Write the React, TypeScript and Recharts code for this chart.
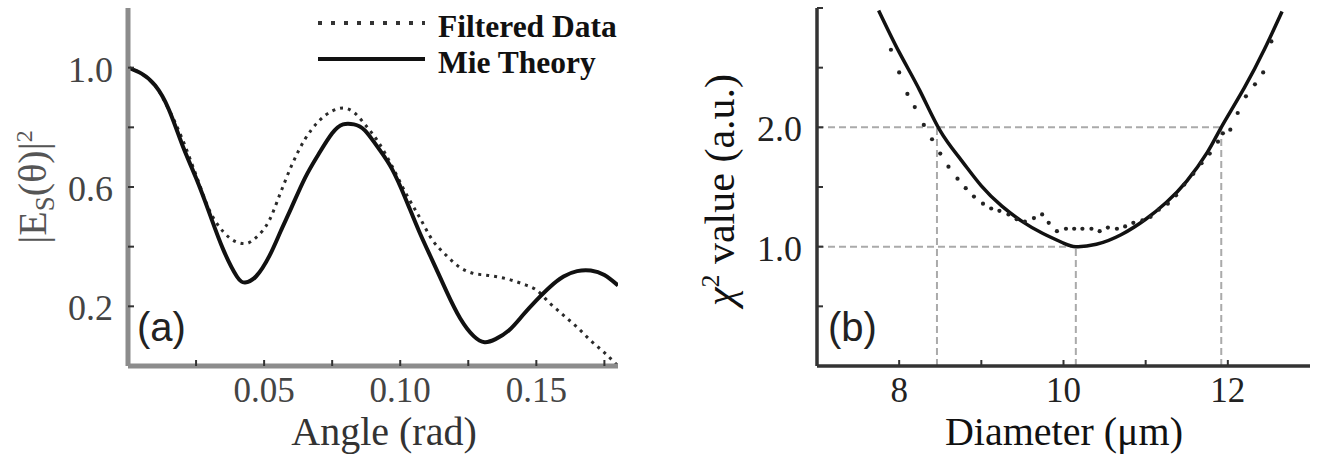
import React from "react";
import { LineChart, ComposedChart, Line, Scatter, XAxis, YAxis, ReferenceLine } from "recharts";

// panel (a): scattered intensity vs angle
const ANGLE = [0, 0.005, 0.01, 0.015, 0.02, 0.025, 0.03, 0.035, 0.04, 0.043, 0.047, 0.052, 0.056, 0.06, 0.065, 0.07, 0.075, 0.079, 0.083, 0.087, 0.092, 0.097, 0.102, 0.107, 0.112, 0.117, 0.122, 0.127, 0.131, 0.135, 0.14, 0.145, 0.15, 0.155, 0.16, 0.165, 0.17, 0.175, 0.18];
const MIE = [1.0, 0.98, 0.94, 0.86, 0.74, 0.63, 0.51, 0.39, 0.3, 0.28, 0.3, 0.37, 0.45, 0.53, 0.63, 0.71, 0.78, 0.81, 0.81, 0.79, 0.73, 0.66, 0.56, 0.45, 0.35, 0.25, 0.16, 0.1, 0.08, 0.09, 0.12, 0.17, 0.22, 0.265, 0.3, 0.318, 0.32, 0.305, 0.27];
const FILTERED = [1.0, 0.98, 0.94, 0.86, 0.76, 0.64, 0.52, 0.45, 0.415, 0.41, 0.43, 0.49, 0.58, 0.67, 0.76, 0.82, 0.855, 0.865, 0.85, 0.81, 0.75, 0.67, 0.58, 0.5, 0.42, 0.37, 0.33, 0.31, 0.305, 0.3, 0.29, 0.275, 0.255, 0.21, 0.17, 0.13, 0.085, 0.045, 0.0];
const ANGLE_TICKS = [0.025, 0.05, 0.075, 0.1, 0.125, 0.15, 0.175];
const ANGLE_LABELS = [0.05, 0.1, 0.15];
const INTENSITY_TICKS = [0.2, 0.4, 0.6, 0.8, 1.0];
const INTENSITY_LABELS = [0.2, 0.6, 1.0];

// panel (b): chi-square vs diameter
const FIT_D = [7.75, 8.0, 8.25, 8.5, 8.75, 9.0, 9.25, 9.5, 9.75, 10.0, 10.15, 10.4, 10.7, 11.0, 11.25, 11.5, 11.75, 11.92, 12.2, 12.45, 12.66];
const FIT_CHI = [2.98, 2.63, 2.31, 1.97, 1.73, 1.51, 1.34, 1.21, 1.11, 1.03, 1.0, 1.02, 1.1, 1.23, 1.37, 1.55, 1.79, 2.0, 2.33, 2.66, 2.97];
const DATA_D = [7.9, 8.0, 8.1, 8.19, 8.3, 8.4, 8.5, 8.6, 8.71, 8.81, 8.91, 9.02, 9.12, 9.22, 9.33, 9.43, 9.53, 9.64, 9.74, 9.82, 9.92, 10.03, 10.13, 10.23, 10.34, 10.44, 10.54, 10.65, 10.75, 10.85, 10.96, 11.06, 11.16, 11.27, 11.37, 11.47, 11.58, 11.68, 11.78, 11.88, 11.94, 12.03, 12.12, 12.22, 12.33, 12.43, 12.53];
const DATA_CHI = [2.65, 2.46, 2.28, 2.17, 2.02, 1.9, 1.78, 1.67, 1.57, 1.49, 1.42, 1.36, 1.32, 1.3, 1.27, 1.23, 1.21, 1.24, 1.27, 1.2, 1.13, 1.15, 1.15, 1.15, 1.15, 1.13, 1.16, 1.15, 1.17, 1.2, 1.22, 1.25, 1.31, 1.36, 1.43, 1.52, 1.61, 1.7, 1.78, 1.88, 1.95, 1.98, 2.12, 2.26, 2.36, 2.46, 2.72];
const DIAM_TICKS = [8, 9, 10, 11, 12];
const DIAM_LABELS = [8, 10, 12];
const CHI_TICKS = [0.5, 1.0, 1.5, 2.0, 2.5, 3.0];
const CHI_LABELS = [1.0, 2.0];
const CROSS_LOW = 8.46;
const BEST_D = 10.15;
const CROSS_HIGH = 11.92;

const mieData = ANGLE.map((x, i) => ({ x, y: MIE[i] }));
const filteredData = ANGLE.map((x, i) => ({ x, y: FILTERED[i] }));
const fitData = FIT_D.map((x, i) => ({ x, y: FIT_CHI[i] }));
const pointData = DATA_D.map((x, i) => ({ x, y: DATA_CHI[i] }));

const SERIF = "'Liberation Serif', 'Times New Roman', serif";

function makeTick(side: "bottom" | "left", labels: number[], fmt: (v: number) => string, color: string, mark: string) {
  return (props: any) => {
    const { x, y, payload } = props;
    const v = payload.value;
    const shown = labels.some((l) => Math.abs(l - v) < 1e-9);
    if (side === "bottom") {
      return (
        <g>
          <line x1={x} x2={x} y1={y} y2={y - 6} stroke={mark} strokeWidth={2} />
          {shown && <text x={x} y={y + 36} textAnchor="middle" fontFamily={SERIF} fontSize={35} fill={color}>{fmt(v)}</text>}
        </g>
      );
    }
    return (
      <g>
        <line x1={x} x2={x + 6} y1={y} y2={y} stroke={mark} strokeWidth={2} />
        {shown && <text x={x - 15} y={y + 14} textAnchor="end" fontFamily={SERIF} fontSize={36} fill={color}>{fmt(v)}</text>}
      </g>
    );
  };
}

export default function App() {
  return (
    <div style={{ position: "absolute", left: 0, top: 0, width: 1320, height: 457, background: "#fff", overflow: "hidden" }}>
      {/* (a) */}
      <div style={{ position: "absolute", left: 0, top: 0 }}>
        <LineChart width={660} height={457} margin={{ top: 8, right: 42, bottom: 61, left: 68 }}>
          <XAxis dataKey="x" type="number" domain={[0, 0.18]} allowDataOverflow ticks={ANGLE_TICKS} interval={0} height={30}
            axisLine={{ stroke: "#8c8c8c", strokeWidth: 5 }} tickLine={false} tickSize={0} tickMargin={0}
            tick={makeTick("bottom", ANGLE_LABELS, (v) => v.toFixed(2), "#444", "#333")} />
          <YAxis dataKey="y" type="number" domain={[0, 1.2]} allowDataOverflow ticks={INTENSITY_TICKS} interval={0} width={60}
            axisLine={{ stroke: "#8c8c8c", strokeWidth: 5 }} tickLine={false} tickSize={0} tickMargin={0}
            tick={makeTick("left", INTENSITY_LABELS, (v) => v.toFixed(1), "#444", "#333")} />
          <Line data={filteredData} dataKey="y" type="monotone" stroke="#2a2a2a" strokeWidth={3} strokeDasharray="3 5" dot={false} isAnimationActive={false} />
          <Line data={mieData} dataKey="y" type="natural" stroke="#111" strokeWidth={4} dot={false} isAnimationActive={false} />
        </LineChart>
      </div>
      {/* (b) */}
      <div style={{ position: "absolute", left: 660, top: 0 }}>
        <ComposedChart width={660} height={457} margin={{ top: 8, right: 10, bottom: 61, left: 97 }}>
          <XAxis dataKey="x" type="number" domain={[7, 13]} allowDataOverflow ticks={DIAM_TICKS} interval={0} height={30}
            axisLine={{ stroke: "#333", strokeWidth: 3.5 }} tickLine={false} tickSize={0} tickMargin={0}
            tick={makeTick("bottom", DIAM_LABELS, (v) => String(v), "#222", "#333")} />
          <YAxis dataKey="y" type="number" domain={[0, 3]} allowDataOverflow ticks={CHI_TICKS} interval={0} width={60}
            axisLine={{ stroke: "#333", strokeWidth: 3.5 }} tickLine={false} tickSize={0} tickMargin={0}
            tick={makeTick("left", CHI_LABELS, (v) => v.toFixed(1), "#222", "#333")} />
          <ReferenceLine segment={[{ x: 7, y: 2 }, { x: CROSS_HIGH, y: 2 }]} stroke="#aaa" strokeWidth={2} strokeDasharray="7 4" />
          <ReferenceLine segment={[{ x: 7, y: 1 }, { x: BEST_D, y: 1 }]} stroke="#aaa" strokeWidth={2} strokeDasharray="7 4" />
          <ReferenceLine segment={[{ x: CROSS_LOW, y: 0 }, { x: CROSS_LOW, y: 2 }]} stroke="#aaa" strokeWidth={2} strokeDasharray="7 4" />
          <ReferenceLine segment={[{ x: BEST_D, y: 0 }, { x: BEST_D, y: 1 }]} stroke="#aaa" strokeWidth={2} strokeDasharray="7 4" />
          <ReferenceLine segment={[{ x: CROSS_HIGH, y: 0 }, { x: CROSS_HIGH, y: 2 }]} stroke="#aaa" strokeWidth={2} strokeDasharray="7 4" />
          <Scatter data={pointData} dataKey="y" isAnimationActive={false}
            shape={(p: any) => <circle cx={p.cx} cy={p.cy} r={2.1} fill="#222" />} />
          <Line data={fitData} dataKey="y" type="natural" stroke="#111" strokeWidth={3.5} dot={false} isAnimationActive={false} />
        </ComposedChart>
      </div>
      {/* titles, legend and panel labels */}
      <svg width={1320} height={457} style={{ position: "absolute", left: 0, top: 0, pointerEvents: "none" }}>
        <g fontFamily={SERIF}>
          <line x1={318} x2={425} y1={23} y2={23} stroke="#333" strokeWidth={4} strokeDasharray="4 9" />
          <line x1={318} x2={425} y1={59} y2={59} stroke="#111" strokeWidth={4} />
          <text x={438} y={37} fontSize={31.5} fontWeight="bold" fill="#111">Filtered Data</text>
          <text x={438} y={73} fontSize={31.5} fontWeight="bold" fill="#111">Mie Theory</text>
          <text x={384} y={445} fontSize={40} textAnchor="middle" fill="#333">Angle (rad)</text>
          <text x={1064} y={445} fontSize={40} textAnchor="middle" fill="#111">Diameter (μm)</text>
          <text transform="translate(46,187) rotate(-90)" fontSize={40} textAnchor="middle" fill="#555">
            |E<tspan dy={8} fontSize={27}>S</tspan><tspan dy={-8}>(θ)|</tspan><tspan dy={-14} fontSize={24}>2</tspan>
          </text>
          <text transform="translate(734,190) rotate(-90)" fontSize={42} textAnchor="middle" fill="#111">
            <tspan fontStyle="italic">χ</tspan><tspan dy={-15} fontSize={26}>2</tspan><tspan dy={15}> value (a.u.)</tspan>
          </text>
        </g>
        <text x={137} y={341} fontFamily="'Liberation Sans', Arial, sans-serif" fontSize={40} fill="#222">(a)</text>
        <text x={828} y={341} fontFamily="'Liberation Sans', Arial, sans-serif" fontSize={40} fill="#222">(b)</text>
      </svg>
    </div>
  );
}
